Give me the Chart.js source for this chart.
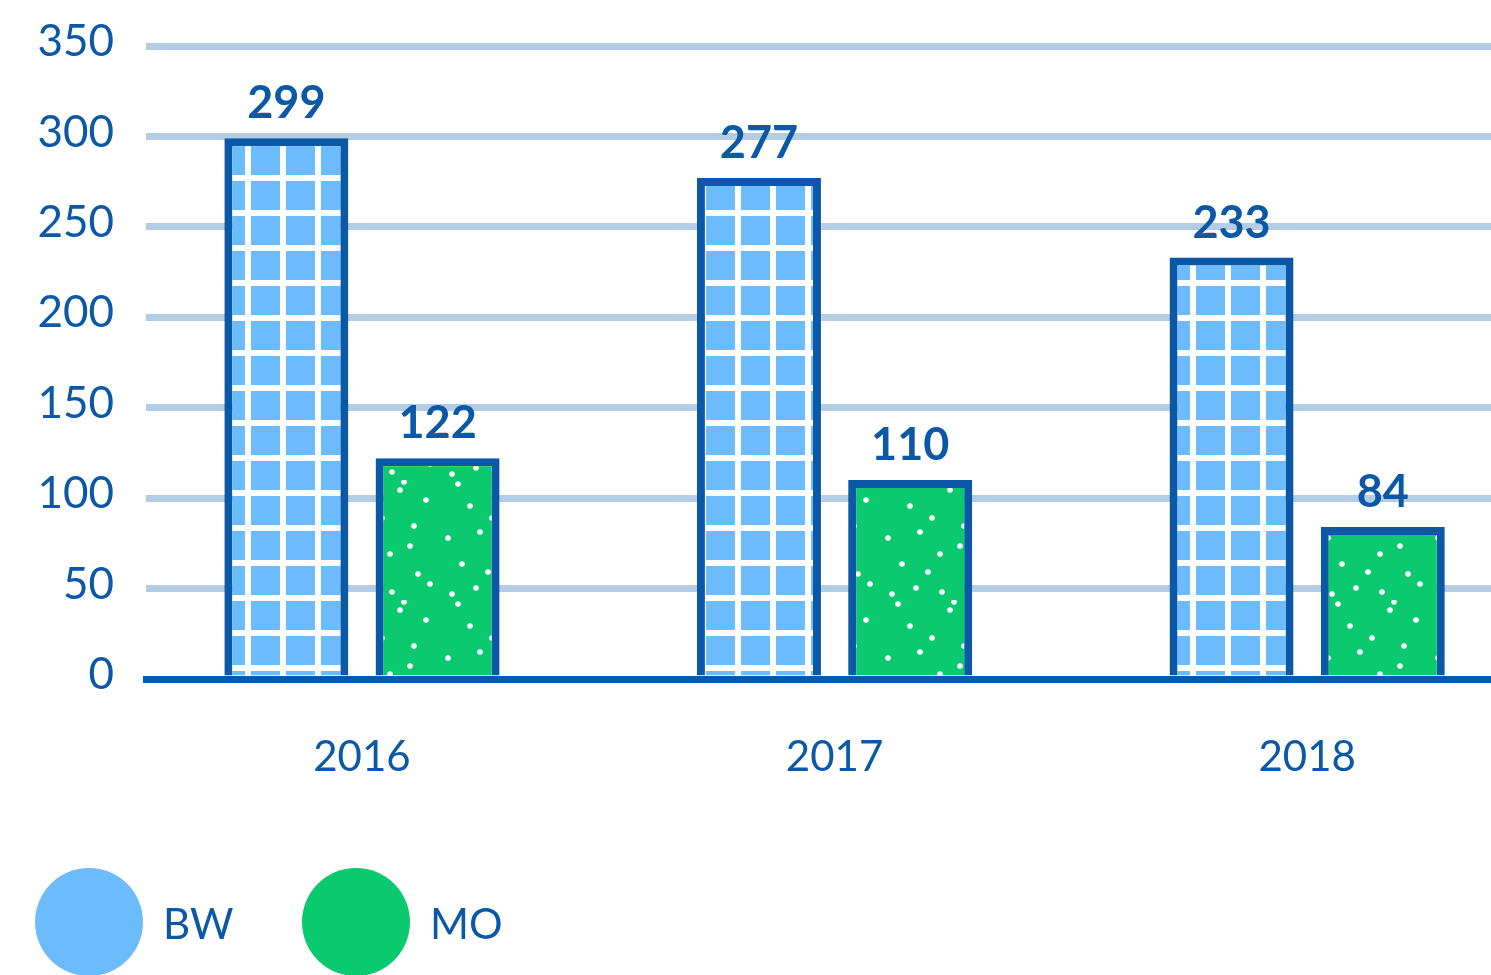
<!DOCTYPE html>
<html>
<head>
<meta charset="utf-8">
<script src="https://cdn.jsdelivr.net/npm/chart.js@4.4.0/dist/chart.umd.min.js"></script>
<style>
  html, body { margin: 0; padding: 0; background: #fff; }
</style>
</head>
<body>
<canvas id="barChart" width="1491" height="975"></canvas>
<script>
const categories = ['2016', '2017', '2018'];
const bwValues = [299, 277, 233];
const moValues = [122, 110, 84];
const yTickStep = 50;
const yMax = 350;

const darkBlue = '#0a58a6';
const gridBlue = '#b4cde4';
const bwColor = '#6cbbfd';
const moColor = '#0bc96f';

// white grid on light blue
function makeGridPattern() {
    const c = document.createElement('canvas');
    c.width = 35; c.height = 35;
    const g = c.getContext('2d');
    g.fillStyle = bwColor;
    g.fillRect(0, 0, 35, 35);
    g.fillStyle = '#fff';
    g.fillRect(0, 0, 35, 6);
    g.fillRect(0, 0, 6, 35);
    return g.createPattern(c, 'repeat');
}

// white speckles on green
function makeDotPattern() {
    const c = document.createElement('canvas');
    c.width = 110; c.height = 120;
    const g = c.getContext('2d');
    g.fillStyle = moColor;
    g.fillRect(0, 0, 110, 120);
    g.fillStyle = '#fff';
    const dots = [[18, 4], [70, 10], [96, 20], [30, 26], [52, 38], [84, 46], [40, 52],
                  [8, 58], [80, 66], [60, 74], [22, 84], [48, 92], [88, 94], [36, 108],
                  [62, 112], [100, 104], [12, 114], [74, 2]];
    dots.forEach(([x, y]) => {
        g.beginPath();
        g.arc(x, y, 2.8, 0, Math.PI * 2);
        g.fill();
    });
    return g.createPattern(c, 'repeat');
}

const ctx = document.getElementById('barChart').getContext('2d');

const valueLabels = {
    id: 'valueLabels',
    afterDatasetsDraw(chart) {
        const c = chart.ctx;
        c.save();
        c.font = 'bold 45px Lato';
        c.fillStyle = darkBlue;
        c.textAlign = 'center';
        c.textBaseline = 'alphabetic';
        chart.data.datasets.forEach((ds, i) => {
            chart.getDatasetMeta(i).data.forEach((bar, j) => {
                c.fillText(String(ds.data[j].y), bar.x, bar.y - 20);
            });
        });
        c.restore();
    }
};

const circleLegend = {
    id: 'circleLegend',
    afterDraw(chart) {
        const c = chart.ctx;
        const spots = [35, 302]; // left edge of each circle
        c.save();
        c.font = '42px Lato';
        c.textBaseline = 'middle';
        c.textAlign = 'left';
        chart.data.datasets.forEach((ds, i) => {
            const x = spots[i];
            c.fillStyle = ds.legendColor;
            c.beginPath();
            c.arc(x + 54, 922, 54, 0, Math.PI * 2);
            c.fill();
            c.fillStyle = darkBlue;
            c.fillText(ds.label, x + 128, 925);
        });
        c.restore();
    }
};

const barChart = new Chart(ctx, {
    type: 'bar',
    data: {
        datasets: [
            {
                label: 'BW',
                data: categories.map((c, i) => ({ x: i, y: bwValues[i] })),
                backgroundColor: makeGridPattern(),
                legendColor: bwColor,
                borderColor: darkBlue,
                borderWidth: 8
            },
            {
                label: 'MO',
                data: categories.map((c, i) => ({ x: i, y: moValues[i] })),
                backgroundColor: makeDotPattern(),
                legendColor: moColor,
                borderColor: darkBlue,
                borderWidth: 8
            }
        ]
    },
    options: {
        responsive: false,
        animation: false,
        categoryPercentage: 0.64,
        barPercentage: 0.82,
        layout: {
            padding: { top: 46, right: 0, bottom: 193, left: 0 }
        },
        plugins: {
            legend: { display: false },
            tooltip: { enabled: false }
        },
        scales: {
            x: {
                type: 'linear',
                min: -0.457,
                max: 2.389,
                offset: false,
                z: 1,
                afterBuildTicks: (scale) => {
                    scale.ticks = categories.map((c, i) => ({ value: i }));
                },
                afterFit: (scale) => { scale.height = 103; },
                grid: { display: false, drawTicks: false, offset: false },
                border: { display: true, color: darkBlue, width: 7 },
                ticks: {
                    padding: 53,
                    color: darkBlue,
                    font: { family: 'Lato', size: 42 },
                    callback: (v) => categories[v]
                }
            },
            y: {
                min: 0,
                max: yMax,
                afterFit: (scale) => {
                    scale.width = 146;
                    scale.paddingTop = 0;
                    scale.paddingBottom = 0;
                },
                grid: {
                    drawTicks: false,
                    lineWidth: 7,
                    color: (c) => c.tick && c.tick.value === 0 ? darkBlue : gridBlue
                },
                border: { display: false },
                ticks: {
                    stepSize: yTickStep,
                    padding: 32,
                    labelOffset: -4,
                    color: darkBlue,
                    font: { family: 'Lato', size: 44 }
                }
            }
        }
    },
    plugins: [valueLabels, circleLegend]
});
</script>
</body>
</html>
